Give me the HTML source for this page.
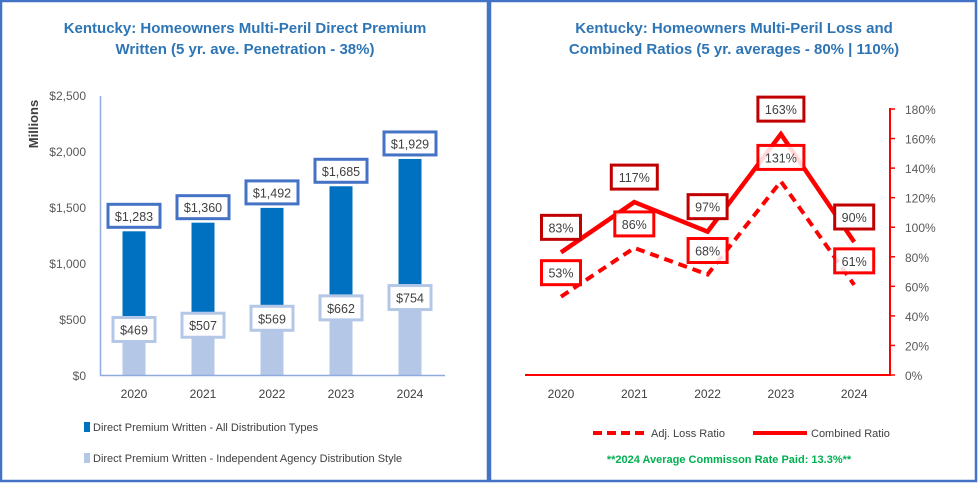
<!DOCTYPE html>
<html><head><meta charset="utf-8"><style>
html,body{margin:0;padding:0;background:#fff}
svg{display:block;font-family:"Liberation Sans",sans-serif}
</style></head><body>
<svg id="c" width="978" height="483" viewBox="0 0 978 483">
<rect x="1" y="1" width="487" height="480" fill="#fff" stroke="#4472C4" stroke-width="2.5"/>
<rect x="490" y="1" width="486" height="480" fill="#fff" stroke="#4472C4" stroke-width="2.5"/>
<g font-weight="bold" font-size="15" fill="#2E75B6" text-anchor="middle">
<text x="245" y="33">Kentucky: Homeowners Multi-Peril Direct Premium</text>
<text x="245" y="54">Written (5 yr. ave. Penetration - 38%)</text>
<text x="734" y="33">Kentucky: Homeowners Multi-Peril Loss and</text>
<text x="734" y="54">Combined Ratios (5 yr. averages - 80% | 110%)</text>
</g>
<text transform="translate(38,124) rotate(-90)" text-anchor="middle" font-size="13" font-weight="bold" fill="#404040">Millions</text>
<g id="left"></g>
<g id="right"></g>
<g>
<rect x="84" y="422" width="6" height="10" fill="#0070C0"/>
<text x="93" y="431" font-size="11" fill="#404040">Direct Premium Written - All Distribution Types</text>
<rect x="84" y="453" width="6" height="10" fill="#B4C7E7"/>
<text x="93" y="462" font-size="11" fill="#404040">Direct Premium Written - Independent Agency Distribution Style</text>
</g>
<g>
<line x1="593" y1="433" x2="646" y2="433" stroke="#FF0000" stroke-width="4" stroke-dasharray="9,5"/>
<text x="651" y="437" font-size="11" fill="#404040">Adj. Loss Ratio</text>
<line x1="753" y1="433" x2="807" y2="433" stroke="#FF0000" stroke-width="4"/>
<text x="811" y="437" font-size="11" fill="#404040">Combined Ratio</text>
<text x="729" y="463" text-anchor="middle" font-size="11" font-weight="bold" fill="#00B050">**2024 Average Commisson Rate Paid: 13.3%**</text>
</g>
</svg>
<script>
const years = ["2020","2021","2022","2023","2024"];
const allTypes = [1283,1360,1492,1685,1929];
const independent = [469,507,569,662,754];
const premTicks = [0,500,1000,1500,2000,2500];
const lossRatio = [53,86,68,131,61];
const combinedRatio = [83,117,97,163,90];
const pctTicks = [0,20,40,60,80,100,120,140,160,180];

const NS="http://www.w3.org/2000/svg";
function mk(tag,attrs,parent,txt){const e=document.createElementNS(NS,tag);for(const k in attrs)e.setAttribute(k,attrs[k]);if(txt!=null)e.textContent=txt;parent.appendChild(e);return e;}
const L=document.getElementById('left'), R=document.getElementById('right');

// left chart
const lx=i=>134+i*69, ly=v=>375-v*280/2500;
for(const t of premTicks){
  const e=mk('text',{x:86,y:ly(t)+5,'text-anchor':'end','font-size':12,fill:'#595959'},L,'$'+t.toLocaleString('en-US'));
  
  
}
years.forEach((y,i)=>{
  const b1=mk('rect',{x:lx(i)-11.5,y:ly(allTypes[i]),width:23,height:375-ly(allTypes[i]),fill:'#0070C0'},L);
  
  
  const b2=mk('rect',{x:lx(i)-11.5,y:ly(independent[i]),width:23,height:375-ly(independent[i]),fill:'#B4C7E7'},L);
  
  
  const xl=mk('text',{x:lx(i),y:398,'text-anchor':'middle','font-size':12,fill:'#404040'},L,y);
  
  
  const ty=ly(allTypes[i])-27;
  const r1=mk('rect',{x:lx(i)-26,y:ty,width:52,height:23,fill:'#fff',stroke:'#4472C4','stroke-width':3},L);
  
  
  const t1=mk('text',{x:lx(i),y:ty+16.5,'text-anchor':'middle','font-size':12.5,fill:'#404040'},L,'$'+allTypes[i].toLocaleString('en-US'));
  
  
  const by=ly(independent[i])-5;
  const r2=mk('rect',{x:lx(i)-21,y:by,width:42,height:24,fill:'#fff',stroke:'#B4C7E7','stroke-width':3},L);
  
  
  const t2=mk('text',{x:lx(i),y:by+17,'text-anchor':'middle','font-size':12.5,fill:'#404040'},L,'$'+independent[i]);
  
  
});
const ax=mk('path',{d:'M100.5 96 V375.5 H445',fill:'none',stroke:'#8FAADC','stroke-width':1.5},L);



// right chart
const rx=i=>561+i*73.3, ry=v=>375-v*266/180;
for(const t of pctTicks){
  const e=mk('text',{x:905,y:ry(t)+5,'font-size':12,fill:'#595959'},R,t+'%');
  
  
  const tk=mk('line',{x1:890,x2:895,y1:ry(t),y2:ry(t),stroke:'#FF0000','stroke-width':1.5},R);
  
  
}
const rax=mk('path',{d:'M525 375 H890 V108',fill:'none',stroke:'#FF0000','stroke-width':2},R);


years.forEach((y,i)=>{
  const xl=mk('text',{x:rx(i),y:398,'text-anchor':'middle','font-size':12,fill:'#404040'},R,y);
  
  
});
const lp=lossRatio.map((v,i)=>rx(i)+','+ry(v)).join(' ');
const cp=combinedRatio.map((v,i)=>rx(i)+','+ry(v)).join(' ');
const l1=mk('polyline',{points:lp,fill:'none',stroke:'#FF0000','stroke-width':4,'stroke-dasharray':'9,6'},R);


const l2=mk('polyline',{points:cp,fill:'none',stroke:'#FF0000','stroke-width':4.5,'stroke-linejoin':'miter'},R);


years.forEach((y,i)=>{
  const cy=ry(combinedRatio[i])-37;
  const w=combinedRatio[i]>=100?46:39;
  const r1=mk('rect',{x:rx(i)-w/2,y:cy,width:w,height:24,fill:'#fff',stroke:'#C00000','stroke-width':3},R);
  
  
  const t1=mk('text',{x:rx(i),y:cy+17,'text-anchor':'middle','font-size':12.5,fill:'#404040'},R,combinedRatio[i]+'%');
  
  
  const ly2=ry(lossRatio[i])-36;
  const w2=lossRatio[i]>=100?46:39;
  const r2=mk('rect',{x:rx(i)-w2/2,y:ly2,width:w2,height:24,fill:'#fff','fill-opacity':0.85,stroke:'#FF0000','stroke-width':3},R);
  
  
  const t2=mk('text',{x:rx(i),y:ly2+17,'text-anchor':'middle','font-size':12.5,fill:'#404040'},R,lossRatio[i]+'%');
  
  
});
</script>
</body></html>
